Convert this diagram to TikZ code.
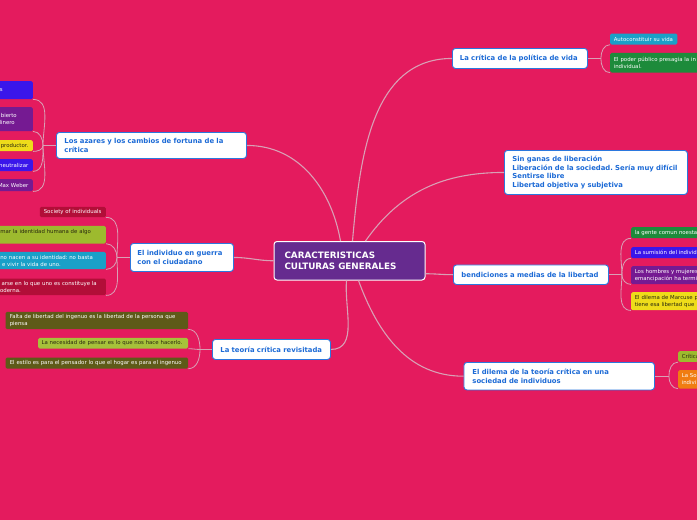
\documentclass[tikz,border=0pt]{standalone}
\usepackage{fontspec}
\setmainfont{DejaVu Sans}
\frenchspacing
\definecolor{bg}{HTML}{E41B5E}
\definecolor{mainblue}{HTML}{2B78DE}
\definecolor{maintext}{HTML}{1C6AD6}
\definecolor{cpurple}{HTML}{662B8F}
\definecolor{linec}{HTML}{D9A0B5}
\definecolor{lcyan}{HTML}{1AA0C8}
\definecolor{lgreen}{HTML}{1D8B3B}
\definecolor{lblue}{HTML}{3A16EA}
\definecolor{lpurple}{HTML}{751A92}
\definecolor{lyellow}{HTML}{EEDC1A}
\definecolor{lolive}{HTML}{9DBA2E}
\definecolor{lorange}{HTML}{F07D11}
\definecolor{lred}{HTML}{B20E38}
\definecolor{ldark}{HTML}{5E5A18}
\definecolor{lyg}{HTML}{A6C23A}
\definecolor{darktext}{HTML}{2A2A10}
\begin{document}
\begin{tikzpicture}[x=1pt,y=-1pt,
  mainbox/.style={draw=mainblue, line width=0.9pt, fill=white, rounded corners=3pt, anchor=north west, align=left, inner ysep=0pt, font=\fontsize{6.85}{8.7}\selectfont\bfseries, text=maintext},
  centerbox/.style={draw=white, line width=1pt, fill=cpurple, rounded corners=3pt, anchor=north west, align=left, inner ysep=0pt, font=\fontsize{8.8}{11}\selectfont\bfseries, text=white},
  leaf/.style={rounded corners=1.5pt, inner ysep=0pt, font=\fontsize{5.4}{7}\selectfont, text=white},
  leafR/.style={leaf, anchor=north west, align=left, inner xsep=3.6pt, text width=150pt},
  leafL/.style={leaf, anchor=north east, align=right, inner xsep=0pt, text width=150pt},
  leafF/.style={leaf, anchor=north east, align=left, inner xsep=4pt},
  conn/.style={draw=linec, line width=1.1pt},
  sconn/.style={draw=linec, line width=0.8pt}]
\useasboundingbox (0,0) rectangle (697,520);
\clip (0,0) rectangle (697,520);
\fill[bg] (0,0) rectangle (697,520);

% main nodes
\node[centerbox, text width=130pt, minimum height=38.5pt, inner xsep=10.5pt] (c) at (273.5,241) {\mbox{CARACTERISTICAS}\\\mbox{CULTURAS GENERALES}};
\node[mainbox, text width=174pt, minimum height=26pt, inner xsep=8pt] (az) at (56,132) {\mbox{Los azares y los cambios de fortuna de la}\\crítica};
\node[mainbox, text width=89pt, minimum height=28pt, inner xsep=7pt] (ind) at (130,243) {\mbox{El individuo en guerra}\\\mbox{con el ciudadano}};
\node[mainbox, text width=102pt, minimum height=20pt, inner xsep=8pt] (teo) at (212,339) {\mbox{La teoría crítica revisitada}};
\node[mainbox, text width=120pt, minimum height=20pt, inner xsep=7.5pt] (pol) at (452,48) {\mbox{La crítica de la política de vida}};
\node[mainbox, text width=167pt, minimum height=44pt, inner xsep=8pt] (sin) at (504,150) {\mbox{Sin ganas de liberación}\\\mbox{Liberación de la sociedad. Sería muy difícil}\\\mbox{Sentirse libre}\\\mbox{Libertad objetiva y subjetiva}};
\node[mainbox, text width=139pt, minimum height=19.5pt, inner xsep=8pt] (ben) at (453,264.5) {\mbox{bendiciones a medias de la libertad}};
\node[mainbox, text width=173.5pt, minimum height=27.5pt, inner xsep=8.5pt] (dil) at (463.5,362) {\mbox{El dilema de la teoría crítica en una}\\\mbox{sociedad de individuos}};

% central connectors
\draw[conn] ([xshift=3pt]c.north) to[out=85,in=180] (pol.west);
\draw[conn] ([xshift=16pt]c.north) to[out=55,in=180] (sin.west);
\draw[conn] ([yshift=-13pt]c.east) to[out=0,in=180] (ben.west);
\draw[conn] ([xshift=9pt]c.south) to[out=-70,in=180] (dil.west);
\draw[conn] ([xshift=-3pt]c.south) to[out=-95,in=0] (teo.east);
\draw[conn] (c.west) to[out=180,in=0] (ind.east);
\draw[conn] ([xshift=-9pt]c.north) to[out=100,in=0] (az.east);

% right leaves: politica
\node[leafR, text width=60pt, minimum height=11pt, fill=lcyan] (pol1) at (610,33.3) {Autoconstituir su vida};
\node[leafR, minimum height=19.6pt, fill=lgreen] (pol2) at (610,52.7) {El poder público presagia la in\\individual.};
% bendiciones
\node[leafR, minimum height=11pt, fill=lgreen] (ben1) at (631,227) {la gente comun noesta};
\node[leafR, minimum height=11pt, fill=lblue] (ben2) at (631,247) {La sumisión del individ};
\node[leafR, minimum height=18pt, fill=lpurple] (ben3) at (631,266) {Los hombres y mujeres\\emancipación ha termi};
\node[leafR, minimum height=18pt, fill=lyellow, text=darktext] (ben4) at (631,292) {El dilema de Marcuse p\\tiene esa libertad que};
% dilema
\node[leafR, minimum height=10.7pt, fill=lolive, text=darktext] (dil1) at (678,351) {Crítica};
\node[leafR, minimum height=18.3pt, fill=lorange] (dil2) at (678,370) {La So\\indivi};

% left leaves: azares
\node[leafL, minimum height=18pt, fill=lblue] (az1) at (33,81) {s\kern30pt};
\node[leafL, minimum height=24pt, fill=lpurple] (az2) at (33,107) {bierto\kern16pt\\dinero\kern18pt};
\node[leafL, minimum height=11pt, fill=lyellow, text=darktext] (az3) at (33,140) {productor.\kern4.5pt};
\node[leafL, minimum height=12pt, fill=lblue] (az4) at (33,159) {neutralizar\kern4.5pt};
\node[leafL, minimum height=12pt, fill=lpurple] (az5) at (33,179) {Max Weber\kern4.5pt};
% individuo
\node[leafF, text width=58pt, minimum height=10.3pt, fill=lred] (ind1) at (106,206.7) {Society of individuals};
\node[leafL, minimum height=17.6pt, fill=lolive, text=darktext] (ind2) at (106,225.7) {mar la identidad humana de algo\kern15pt\\\mbox{}};
\node[leafL, minimum height=17.3pt, fill=lcyan] (ind3) at (106,251.7) {no nacen a su identidad: no basta\kern13pt\\e vivir la vida de uno.\kern45pt};
\node[leafL, minimum height=16.7pt, fill=lred] (ind4) at (106,278.3) {arse en lo que uno es constituye la\kern9pt\\oderna.\kern85pt};
% teoria
\node[leafF, text width=174pt, inner xsep=4.3pt, minimum height=17.3pt, fill=ldark] (teo1) at (188.3,311.7) {Falta de libertad del ingenuo es la libertad de la persona que\\piensa};
\node[leafF, text width=143pt, inner xsep=3.5pt, minimum height=10.6pt, fill=lyg, text=darktext] (teo2) at (188.3,337.7) {La necesidad de pensar es lo que nos hace hacerlo.};
\node[leafF, text width=174pt, inner xsep=4.3pt, minimum height=11pt, fill=ldark] (teo3) at (188.3,357.3) {El estilo es para el pensador lo que el hogar es para el ingenuo};

% junctions
\coordinate (jaz) at ([xshift=-13pt]az.west);
\coordinate (jind) at ([xshift=-13pt]ind.west);
\coordinate (jteo) at ([xshift=-12pt]teo.west);
\coordinate (jpol) at ([xshift=13pt]pol.east);
\coordinate (jben) at ([xshift=13pt]ben.east);
\coordinate (jdil) at ([xshift=14pt]dil.east);

\draw[sconn] (az.west) -- (jaz);
\draw[sconn] (ind.west) -- (jind);
\draw[sconn] (teo.west) -- (jteo);
\draw[sconn] (pol.east) -- (jpol);
\draw[sconn] (ben.east) -- (jben);
\draw[sconn] (dil.east) -- (jdil);

\draw[sconn] (jaz) to[out=90,in=0] (az1.south east);
\draw[sconn] (jaz) to[out=90,in=0] (az2.south east);
\draw[sconn] (jaz) to[out=-90,in=0] (az3.south east);
\draw[sconn] (jaz) to[out=-90,in=0] (az4.south east);
\draw[sconn] (jaz) to[out=-90,in=0] (az5.south east);

\draw[sconn] (jind) to[out=90,in=0] (ind1.south east);
\draw[sconn] (jind) to[out=90,in=0] (ind2.south east);
\draw[sconn] (jind) to[out=-90,in=0] (ind3.south east);
\draw[sconn] (jind) to[out=-90,in=0] (ind4.south east);

\draw[sconn] (jteo) to[out=90,in=0] (teo1.south east);
\draw[sconn] (jteo) to[out=180,in=0] (teo2.south east);
\draw[sconn] (jteo) to[out=-90,in=0] (teo3.south east);

\draw[sconn] (jpol) to[out=90,in=180] (pol1.south west);
\draw[sconn] (jpol) to[out=-90,in=180] (pol2.south west);

\draw[sconn] (jben) to[out=90,in=180] (ben1.south west);
\draw[sconn] (jben) to[out=90,in=180] (ben2.south west);
\draw[sconn] (jben) to[out=-90,in=180] (ben3.south west);
\draw[sconn] (jben) to[out=-90,in=180] (ben4.south west);

\draw[sconn] (jdil) to[out=90,in=180] (dil1.south west);
\draw[sconn] (jdil) to[out=-90,in=180] (dil2.south west);
\end{tikzpicture}
\end{document}
